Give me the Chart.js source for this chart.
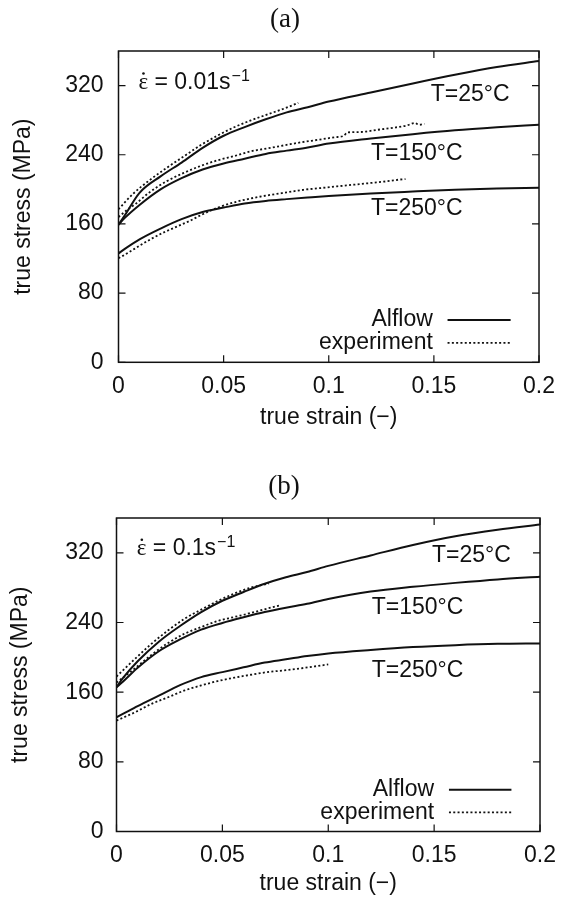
<!DOCTYPE html>
<html>
<head>
<meta charset="utf-8">
<script src="https://cdn.jsdelivr.net/npm/chart.js@4.4.0/dist/chart.umd.min.js"></script>
<style>
  html, body { margin: 0; padding: 0; background: #fff; }
  #wrap { position: relative; width: 566px; height: 905px; }
  canvas { position: absolute; left: 0; }
</style>
</head>
<body>
<div id="wrap">
  <canvas id="chartA" width="566" height="440" style="top:0px"></canvas>
  <canvas id="chartB" width="566" height="465" style="top:440px"></canvas>
</div>
<script>
// ---- data ----
const X_TICKS = [0, 0.05, 0.1, 0.15, 0.2];
const X_TICK_LABELS = ['0', '0.05', '0.1', '0.15', '0.2'];
const Y_TICKS = [0, 80, 160, 240, 320];
const Y_TICK_LABELS = ['0', '80', '160', '240', '320'];

// Alflow model curves, both panels sampled at the same strains
const ALFLOW_STRAIN = [0, 0.003, 0.01, 0.02, 0.03, 0.04, 0.05, 0.06, 0.07, 0.08, 0.09, 0.1, 0.12, 0.14, 0.16, 0.18, 0.2];

// (a) strain rate 0.01 1/s
const A_ALFLOW_25  = [159, 170, 196, 215, 231, 248, 262, 272, 281, 289, 295, 301.5, 312, 322.5, 332.5, 341.5, 348.5];
const A_ALFLOW_150 = [159, 167, 182, 200, 213, 223, 230, 235.5, 241, 244.8, 248.5, 253, 258.8, 263.8, 268.3, 271.8, 274.8];
const A_ALFLOW_250 = [126, 131.2, 142.2, 154.7, 165.6, 173.8, 178.9, 183.6, 186.6, 188.7, 190.6, 192.4, 195.3, 197.5, 199.5, 201, 202];

const A_EXP_25_X = [0, 0.007, 0.015, 0.023, 0.031, 0.039, 0.047, 0.055, 0.063, 0.071, 0.079, 0.0855];
const A_EXP_25_Y = [177, 195, 211, 225, 238, 251, 262, 271.8, 279.8, 286.8, 293.6, 300];
const A_EXP_150_X = [0, 0.004, 0.008, 0.015, 0.023, 0.031, 0.039, 0.047, 0.055, 0.063, 0.071, 0.079, 0.087, 0.095, 0.103, 0.107, 0.109, 0.115, 0.123, 0.131, 0.137, 0.141, 0.143, 0.1455];
const A_EXP_150_Y = [168, 176, 183, 197, 209.5, 219, 227, 233.5, 238.5, 244, 247.5, 251, 254.5, 257.3, 260.3, 261.8, 265.8, 266.3, 268.8, 271.3, 273.8, 276.7, 274.7, 275.7];
const A_EXP_250_X = [0, 0.005, 0.01, 0.016, 0.022, 0.028, 0.034, 0.04, 0.048, 0.056, 0.064, 0.072, 0.08, 0.088, 0.096, 0.104, 0.112, 0.12, 0.128, 0.134, 0.1365];
const A_EXP_250_Y = [120.3, 127.3, 134.8, 143.3, 150.7, 157.2, 163.7, 171.2, 179.6, 185.6, 190, 193.5, 196.5, 199.5, 201.5, 203.5, 205.4, 207.4, 209.4, 211.4, 211.9];

// (b) strain rate 0.1 1/s
const B_ALFLOW_25  = [165.7, 176, 195.5, 218, 236, 252, 265, 275, 284.5, 292, 298, 305, 317, 329, 339, 346.5, 352.5];
const B_ALFLOW_150 = [165.7, 172, 188, 207, 220.5, 231.8, 239.5, 246, 252, 257, 261.5, 267, 275.5, 281, 285.5, 289.5, 292.5];
const B_ALFLOW_250 = [131.2, 135, 144, 156, 168, 177.3, 183, 188.5, 194, 197.7, 201.5, 204.5, 208.5, 211.8, 214, 215.5, 216];

const B_EXP_25_X = [0, 0.0088, 0.0166, 0.0244, 0.0322, 0.04, 0.0478, 0.0556, 0.0634, 0.072];
const B_EXP_25_Y = [178, 198.4, 215.7, 231, 244.4, 254.8, 264.7, 273.2, 280.1, 284.7];
const B_EXP_150_X = [0, 0.0088, 0.0166, 0.0244, 0.0322, 0.04, 0.0478, 0.0556, 0.0634, 0.0712, 0.0774];
const B_EXP_150_Y = [171, 187.5, 203, 216.5, 227.2, 234.8, 241.7, 246.3, 250.9, 256, 259.8];
const B_EXP_250_X = [0, 0.0088, 0.0166, 0.0244, 0.0322, 0.04, 0.0478, 0.0556, 0.0634, 0.0712, 0.079, 0.0868, 0.0935, 0.1];
const B_EXP_250_Y = [127.4, 137, 146.6, 154.2, 162, 167.7, 172.7, 176.6, 180, 183, 185, 187.3, 189.5, 191.9];

const TEMP_LABELS = ['T=25°C', 'T=150°C', 'T=250°C'];
const LEGEND_LABELS = ['Alflow', 'experiment'];

// ---- drawing ----
const INK = '#111';
const SANS = '"Liberation Sans", Arial, sans-serif';
const SERIF = '"Liberation Serif", "Times New Roman", serif';
const DOTS = [2, 2.3];

function points(xs, ys) {
  return xs.map((x, i) => ({ x: x, y: ys[i] }));
}

function curve(xs, ys, dotted) {
  return {
    data: points(xs, ys),
    borderColor: INK,
    borderWidth: dotted ? 1.8 : 2,
    borderDash: dotted ? DOTS : [],
    pointRadius: 0,
    fill: false,
    cubicInterpolationMode: 'monotone'
  };
}

const decor = {
  id: 'decor',
  afterDraw(chart, args, o) {
    const { ctx, chartArea: a } = chart;
    const x = chart.scales.x, y = chart.scales.y;
    const px = v => x.getPixelForValue(v);
    const py = v => y.getPixelForValue(v);
    ctx.save();
    ctx.strokeStyle = INK;
    ctx.fillStyle = INK;

    // frame with inward ticks on all four sides
    ctx.lineWidth = 1.5;
    ctx.strokeRect(a.left, a.top, a.right - a.left, a.bottom - a.top);
    ctx.beginPath();
    X_TICKS.forEach(v => {
      const p = px(v);
      ctx.moveTo(p, a.bottom); ctx.lineTo(p, a.bottom - 7);
      ctx.moveTo(p, a.top); ctx.lineTo(p, a.top + 7);
    });
    Y_TICKS.forEach(v => {
      const p = py(v);
      ctx.moveTo(a.left, p); ctx.lineTo(a.left + 7, p);
      ctx.moveTo(a.right, p); ctx.lineTo(a.right - 7, p);
    });
    ctx.lineWidth = 1.2;
    ctx.stroke();

    // panel letter
    ctx.font = '27px ' + SERIF;
    ctx.textAlign = 'center';
    ctx.textBaseline = 'middle';
    ctx.fillText(o.title, o.titleX, o.titleY);

    // strain rate, epsilon with a dot
    const ex = px(o.rateAt[0]), ey = py(o.rateAt[1]);
    ctx.textAlign = 'left';
    ctx.textBaseline = 'alphabetic';
    ctx.font = '23px ' + SERIF;
    ctx.fillText('ε', ex, ey);
    ctx.beginPath();
    ctx.arc(ex + 5, ey - 15.5, 1.3, 0, Math.PI * 2);
    ctx.fill();
    ctx.font = '23px ' + SANS;
    ctx.fillText(o.rateText, ex + 16, ey);
    const w = ctx.measureText(o.rateText).width;
    ctx.font = '16px ' + SANS;
    ctx.fillText('−1', ex + 16 + w + 1, ey - 8);

    // temperature labels
    ctx.font = '23px ' + SANS;
    ctx.textBaseline = 'middle';
    TEMP_LABELS.forEach((t, i) => {
      ctx.fillText(t, px(o.tempAt[i][0]), py(o.tempAt[i][1]));
    });

    // key
    ctx.textAlign = 'right';
    LEGEND_LABELS.forEach((t, i) => {
      const yy = py(o.keyY[i]);
      ctx.fillText(t, px(o.keyTextX), yy);
      ctx.beginPath();
      ctx.setLineDash(i === 0 ? [] : DOTS);
      ctx.lineWidth = i === 0 ? 2 : 1.8;
      ctx.moveTo(px(o.keyLine[0]), yy);
      ctx.lineTo(px(o.keyLine[1]), yy);
      ctx.stroke();
    });
    ctx.restore();
  }
};

function makeChart(id, datasets, lay, deco) {
  return new Chart(document.getElementById(id), {
    type: 'line',
    data: { datasets: datasets },
    plugins: [decor],
    options: {
      responsive: false,
      animation: false,
      devicePixelRatio: 1,
      layout: { padding: { top: lay.top, right: lay.right, left: 0, bottom: 0 } },
      plugins: { legend: { display: false }, tooltip: { enabled: false }, decor: deco },
      scales: {
        x: {
          type: 'linear', min: 0, max: 0.2,
          afterBuildTicks: s => { s.ticks = X_TICKS.map(v => ({ value: v })); },
          afterFit: s => { s.height = lay.xHeight; },
          grid: { display: false, drawTicks: false },
          border: { display: false },
          ticks: {
            color: INK, font: { family: SANS, size: 23 }, padding: lay.xPad, maxRotation: 0,
            callback: (v, i) => X_TICK_LABELS[i]
          },
          title: { display: true, text: 'true strain (−)', color: INK, font: { family: SANS, size: 23 }, padding: { top: 0, bottom: lay.xTitlePad } }
        },
        y: {
          min: 0, max: 360,
          afterBuildTicks: s => { s.ticks = Y_TICKS.map(v => ({ value: v })); },
          afterFit: s => { s.width = lay.yWidth; },
          grid: { display: false, drawTicks: false },
          border: { display: false },
          ticks: {
            color: INK, font: { family: SANS, size: 23 }, padding: lay.yPad,
            callback: (v, i) => Y_TICK_LABELS[i]
          },
          title: { display: true, text: 'true stress (MPa)', color: INK, font: { family: SANS, size: 23 }, padding: { top: lay.yTitlePad, bottom: 0 } }
        }
      }
    }
  });
}

makeChart('chartA', [
  curve(ALFLOW_STRAIN, A_ALFLOW_25, false),
  curve(ALFLOW_STRAIN, A_ALFLOW_150, false),
  curve(ALFLOW_STRAIN, A_ALFLOW_250, false),
  curve(A_EXP_25_X, A_EXP_25_Y, true),
  curve(A_EXP_150_X, A_EXP_150_Y, true),
  curve(A_EXP_250_X, A_EXP_250_Y, true)
], { top: 51, right: 24, yWidth: 118.5, xHeight: 77.7, xPad: 11, yPad: 15, xTitlePad: 9, yTitlePad: 10 }, {
  title: '(a)', titleX: 285, titleY: 20,
  rateText: '= 0.01s', rateAt: [0.0095, 316],
  tempAt: [[0.1485, 309.5], [0.1201, 241.5], [0.1201, 177.5]],
  keyTextX: 0.1495, keyLine: [0.1565, 0.1865], keyY: [49, 22.5]
});

makeChart('chartB', [
  curve(ALFLOW_STRAIN, B_ALFLOW_25, false),
  curve(ALFLOW_STRAIN, B_ALFLOW_150, false),
  curve(ALFLOW_STRAIN, B_ALFLOW_250, false),
  curve(B_EXP_25_X, B_EXP_25_Y, true),
  curve(B_EXP_150_X, B_EXP_150_Y, true),
  curve(B_EXP_250_X, B_EXP_250_Y, true)
], { top: 78, right: 22, yWidth: 116.5, xHeight: 73.5, xPad: 10, yPad: 13, xTitlePad: 8, yTitlePad: 7 }, {
  title: '(b)', titleX: 284, titleY: 47,
  rateText: '= 0.1s', rateAt: [0.0096, 317.3],
  tempAt: [[0.149, 317.3], [0.1205, 257.5], [0.1205, 184.4]],
  keyTextX: 0.15, keyLine: [0.157, 0.1865], keyY: [48, 22]
});
</script>
</body>
</html>
